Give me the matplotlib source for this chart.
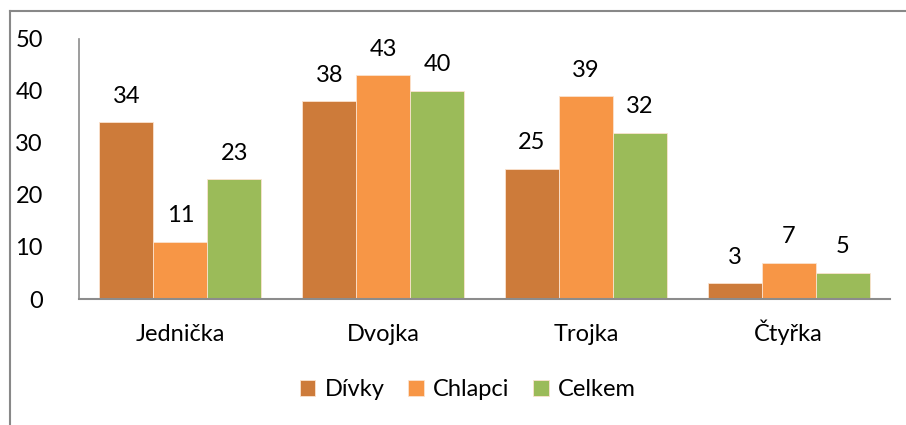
import matplotlib
matplotlib.use("Agg")
import matplotlib.pyplot as plt
from matplotlib.lines import Line2D
import numpy as np

plt.rcParams['font.family'] = ['Lato', 'DejaVu Sans']
plt.rcParams['font.size'] = 17

categories = ["Jednička", "Dvojka", "Trojka", "Čtyřka"]
series_names = ["Dívky", "Chlapci", "Celkem"]
divky = [34, 38, 25, 3]
chlapci = [11, 43, 39, 7]
celkem = [23, 40, 32, 5]
colors = ["#CD7B3A", "#F79646", "#9BBB59"]

W, H = 906, 425
fig = plt.figure(figsize=(W / 100, H / 100), dpi=100)
ax = fig.add_axes([79 / W, 1 - 299 / H, 811 / W, 260 / H])

x = np.arange(len(categories))
bw = 0.266
for i, (vals, name) in enumerate(zip([divky, chlapci, celkem], series_names)):
    pos = x + (i - 1) * bw
    ax.bar(pos, vals, bw, color=colors[i], edgecolor="#FBE3CF", linewidth=0.6, label=name)
    for p, v in zip(pos, vals):
        ax.text(p, v + 3.0, str(v), ha="center", va="bottom", fontsize=17)

ax.set_xlim(-0.5, len(categories) - 0.5)
ax.set_ylim(0, 50)
ax.set_yticks([0, 10, 20, 30, 40, 50])
ax.set_xticks(x)
ax.set_xticklabels(categories)
for lab in ax.get_xticklabels():
    lab.set_va("baseline")
ax.tick_params(axis="y", length=0, pad=26, labelsize=17)
ax.tick_params(axis="x", length=0, pad=30, labelsize=17)
for s in ["top", "right"]:
    ax.spines[s].set_visible(False)
ax.spines["left"].set_color("#8C8C8C")
ax.spines["bottom"].set_color("#8C8C8C")
ax.spines["left"].set_linewidth(1.2)
ax.spines["bottom"].set_linewidth(1.5)

ax.legend(loc="center", bbox_to_anchor=(468 / W, 1 - 390 / H), bbox_transform=fig.transFigure,
          ncol=3, frameon=False, fontsize=17, handlelength=0.65, handleheight=0.65,
          handletextpad=0.4, columnspacing=1.0)

# outer chart frame (only top and left visible)
fig.add_artist(Line2D([9.5 / W, 1], [1 - 10.5 / H, 1 - 10.5 / H], color="#888888", lw=1.5,
                      transform=fig.transFigure))
fig.add_artist(Line2D([9.5 / W, 9.5 / W], [0, 1 - 10.5 / H], color="#888888", lw=1.5,
                      transform=fig.transFigure))

fig.savefig("out.png", dpi=100)
